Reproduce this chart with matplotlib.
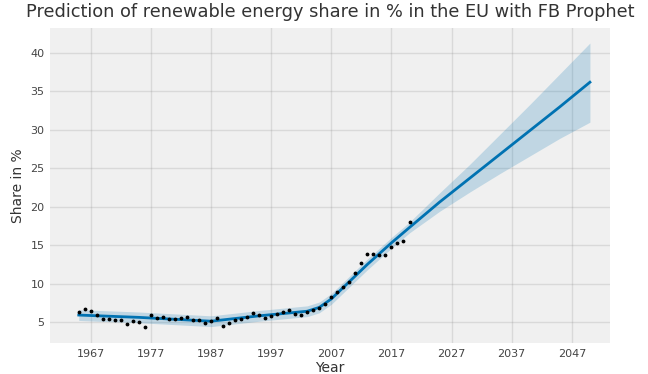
import matplotlib
matplotlib.use("Agg")
import matplotlib.pyplot as plt

# observed share of renewables in EU energy, %, one value per year
years = list(range(1965, 2021))
share = [6.3, 6.7, 6.4, 5.9, 5.4, 5.35, 5.3, 5.2, 4.8, 5.1,
         5.0, 4.4, 5.9, 5.5, 5.6, 5.4, 5.4, 5.5, 5.7, 5.3,
         5.2, 4.9, 5.1, 5.5, 4.5, 4.9, 5.3, 5.4, 5.6, 6.2,
         5.9, 5.5, 5.8, 6.0, 6.3, 6.5, 6.1, 5.9, 6.3, 6.6,
         6.8, 7.4, 8.2, 8.9, 9.6, 10.2, 11.4, 12.7, 13.8, 13.9,
         13.7, 13.7, 14.7, 15.3, 15.6, 18.0]

# prophet forecast (yhat) with its uncertainty interval
fc_years = [1965, 1975, 1987, 1995, 2003, 2005, 2007, 2009, 2013, 2017, 2020, 2025, 2030, 2035, 2040, 2045, 2050]
yhat = [5.9, 5.6, 5.1, 5.8, 6.4, 6.9, 8.0, 9.5, 12.5, 15.3, 17.3, 20.6, 23.7, 26.8, 29.9, 33.0, 36.2]
yhat_lower = [5.2, 4.9, 4.4, 5.1, 5.7, 6.2, 7.3, 8.8, 11.8, 14.6, 16.6, 19.4, 21.9, 24.3, 26.6, 28.9, 31.0]
yhat_upper = [6.6, 6.3, 5.8, 6.5, 7.1, 7.6, 8.7, 10.2, 13.2, 16.0, 18.0, 21.8, 25.5, 29.4, 33.3, 37.3, 41.3]

xticks = [1967, 1977, 1987, 1997, 2007, 2017, 2027, 2037, 2047]
yticks = [5, 10, 15, 20, 25, 30, 35, 40]

fig = plt.figure(figsize=(6.48, 3.74), dpi=100)
ax = fig.add_axes([0.077, 0.083, 0.864, 0.842])
ax.set_facecolor('#f0f0f0')
for s in ax.spines.values():
    s.set_visible(False)

ax.fill_between(fc_years, yhat_lower, yhat_upper, color='#0072B2', alpha=0.2, lw=0)
ax.plot(fc_years, yhat, color='#0072B2', lw=2)
ax.plot(years, share, 'k.', ms=3.5)

ax.set_xlim(1960.2, 2053.3)
ax.set_ylim(2.27, 43.25)
ax.set_xticks(xticks)
ax.set_yticks(yticks)
ax.tick_params(length=0, labelsize=8, labelcolor='#444444', pad=4)
ax.grid(True, color='gray', lw=1, alpha=0.2)
ax.set_axisbelow(True)

ax.set_xlabel('Year', fontsize=10, color='#333333', labelpad=2)
ax.set_ylabel('Share in %', fontsize=10, color='#333333', labelpad=4)
ax.set_title('Prediction of renewable energy share in % in the EU with FB Prophet',
             fontsize=12.8, color='#333333', pad=8)

fig.savefig('out.png', dpi=100, facecolor='white')
